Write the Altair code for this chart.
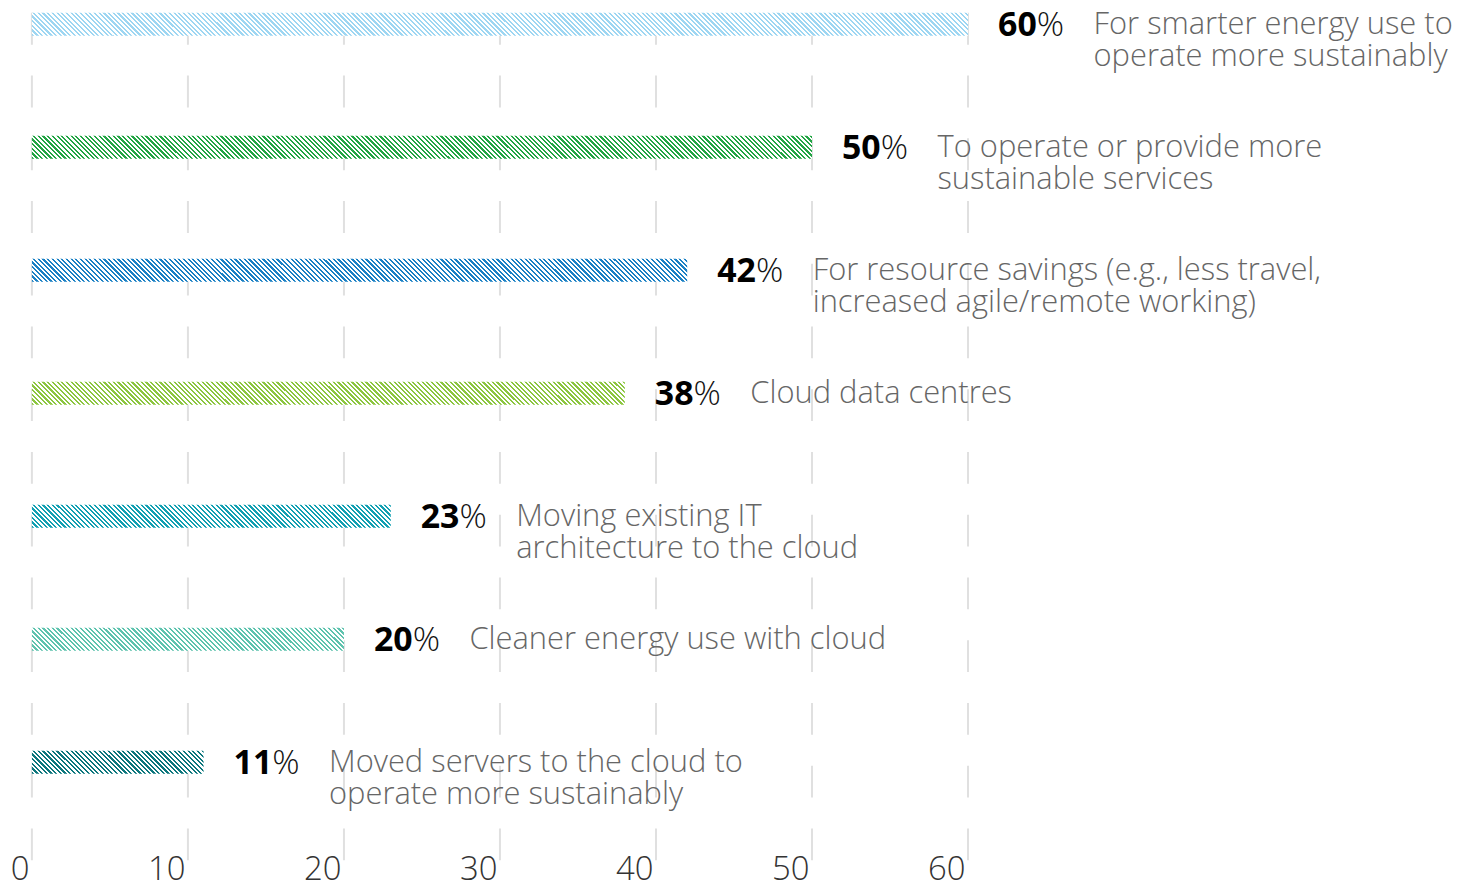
import altair as alt
import pandas as pd

# ---------------- data ----------------
labels = [
    "For smarter energy use to\noperate more sustainably",
    "To operate or provide more\nsustainable services",
    "For resource savings (e.g., less travel,\nincreased agile/remote working)",
    "Cloud data centres",
    "Moving existing IT\narchitecture to the cloud",
    "Cleaner energy use with cloud",
    "Moved servers to the cloud to\noperate more sustainably",
]
values = [60, 50, 42, 38, 23, 20, 11]
bar_colors = ["#9dd6f2", "#22a544", "#1a80c4", "#8cc63f", "#12a0b2", "#5ec3ae", "#0b767c"]
tick_values = [0, 10, 20, 30, 40, 50, 60]

df = pd.DataFrame({"idx": list(range(len(labels))), "label": labels, "value": values})
grid_df = pd.DataFrame({"tick": tick_values})

# ---------------- layout constants ----------------
PLOT_W = 940
PLOT_H = 851
BAR_H = 23
X_MAX = 60
FONT = "Open Sans"


def hatch(color, value, period=4.7, duty=0.47):
    """Diagonal stripe fill built from a hard-stop linear gradient (bbox units)."""
    W = value * PLOT_W / X_MAX
    H = BAR_H
    r = H / W
    k = (1 + r) / (1 + r * r)
    L = W + H
    n = int(L / period) + 1
    stops = []
    for i in range(n):
        a = min(i * period / L, 1.0)
        b = min((i * period + period * duty) / L, 1.0)
        c = min((i + 1) * period / L, 1.0)
        stops += [
            {"offset": a, "color": color},
            {"offset": b, "color": color},
            {"offset": b, "color": "#ffffff"},
            {"offset": c, "color": "#ffffff"},
        ]
    return {"gradient": "linear", "x1": 0, "y1": 1, "x2": k, "y2": 1 - k * r, "stops": stops}


x_scale = alt.Scale(domain=[0, X_MAX], nice=False, zero=True)
x_axis = alt.Axis(
    values=tick_values,
    title=None,
    grid=False,
    domain=False,
    ticks=False,
    tickSize=0,
    labelFont=FONT,
    labelFontWeight=300,
    labelFontSize=33,
    labelColor="#333333",
    labelAlign="right",
    labelBaseline="alphabetic",
    labelPadding=19,
    labelOffset=-3,
    labelFlush=False,
)
y_enc = alt.Y(
    "label:N",
    sort=labels,
    axis=None,
    scale=alt.Scale(paddingInner=0.814, paddingOuter=0.352, align=0),
)

grid = alt.Chart(grid_df).mark_rule(
    color="#e0e0e0", strokeWidth=2, strokeDash=[32, 31]
).encode(x=alt.X("tick:Q", scale=x_scale, axis=x_axis))

bars = []
for i in range(len(labels)):
    bars.append(
        alt.Chart(df)
        .transform_filter(alt.datum.idx == i)
        .mark_bar(color=hatch(bar_colors[i], values[i]))
        .encode(x=alt.X("value:Q", scale=x_scale, axis=x_axis), y=y_enc)
    )

num = alt.Chart(df).mark_text(
    align="right", baseline="alphabetic", dx=69, dy=12,
    font=FONT, fontWeight="bold", fontSize=34, color="#000000",
).encode(x=alt.X("value:Q", scale=x_scale, axis=x_axis), y=y_enc, text="value:Q")

pct = alt.Chart(df).mark_text(
    align="left", baseline="alphabetic", dx=69, dy=12,
    font=FONT, fontWeight=300, fontSize=34, color="#111111",
).encode(x=alt.X("value:Q", scale=x_scale, axis=x_axis), y=y_enc, text=alt.value("%"))

desc = alt.Chart(df).mark_text(
    align="left", baseline="alphabetic", dx=126, dy=10, lineBreak="\n", lineHeight=32,
    font=FONT, fontWeight=300, fontSize=31, color="#666666",
).encode(x=alt.X("value:Q", scale=x_scale, axis=x_axis), y=y_enc, text="label:N")

chart = (
    alt.layer(grid, *bars, num, pct, desc)
    .properties(
        width=PLOT_W,
        height=PLOT_H,
        padding={"left": 24, "top": 3, "right": 492, "bottom": 22},
        autosize=alt.AutoSizeParams(type="none"),
        background="#ffffff",
    )
    .configure_view(stroke=None)
)

chart.save("out.html", embed_options={"renderer": "svg", "actions": False})
